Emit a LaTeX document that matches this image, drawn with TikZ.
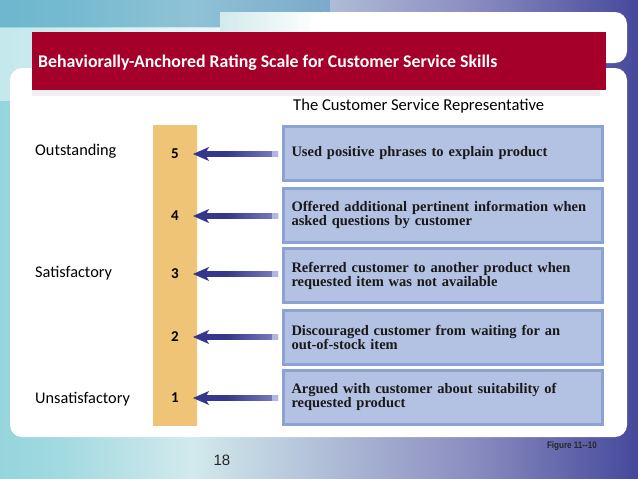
\documentclass[tikz,border=0pt]{standalone}
\usepackage{fontspec}
\setmainfont{Carlito}
\newfontfamily\boxfont{Liberation Serif}
\newfontfamily\arialfont{Liberation Sans}
\usetikzlibrary{calc}
\definecolor{bgteal}{HTML}{56BCC8}
\definecolor{bgtop}{HTML}{3E93BC}
\definecolor{bglight}{HTML}{D2EAEC}
\definecolor{bgnavy}{HTML}{2B2F8C}
\definecolor{titlered}{HTML}{A5002A}
\definecolor{barorange}{HTML}{EFC476}
\definecolor{baredge}{HTML}{E3A84E}
\definecolor{boxfill}{HTML}{B3C1E3}
\definecolor{boxedge}{HTML}{8CA2D5}
\definecolor{arrdark}{HTML}{35378C}
\definecolor{arrlight}{HTML}{B0B6E0}
\pgfdeclarehorizontalshading{bgshade}{100bp}{color(0bp)=(bgteal); color(30bp)=(bgteal!55!white); color(40bp)=(bglight); color(62bp)=(bgnavy!55!white); color(80bp)=(bgnavy); color(100bp)=(bgnavy)}
\pgfdeclarehorizontalshading{barshade}{100bp}{color(0bp)=(baredge); color(25bp)=(barorange); color(75bp)=(barorange); color(100bp)=(baredge)}
\pgfdeclarehorizontalshading{arrshade}{100bp}{color(0bp)=(arrdark); color(40bp)=(arrdark); color(100bp)=(arrlight)}
\newcommand{\wideskip}{\spaceskip=1.45\fontdimen2\font plus 1pt\relax}
\begin{document}
\begin{tikzpicture}[x=1pt,y=-1pt,
  lbl/.style={anchor=base west, font=\fontsize{16.3}{18}\selectfont, text=black, inner sep=0pt},
  num/.style={font=\fontsize{15}{16}\selectfont\bfseries, text=black, inner sep=0pt},
  beh/.style={draw=boxedge, line width=3pt, fill=boxfill, minimum height=54pt,
    text width=302pt, inner xsep=8.5pt, align=left, anchor=west,
    font=\boxfont\bfseries\fontsize{14.5}{14}\selectfont\wideskip, text=black!90},
  headfill/.style={fill=arrdark},
]
\useasboundingbox (0,0) rectangle (638,479);
% background
\shade[shading=bgshade] (0,0) rectangle (638,479);
\fill[bgtop, opacity=0.45] (0,0) rectangle (330,27);
% glow behind title
\shade[left color=bgteal!35!white, right color=white] (0,28) rectangle (330,100);
% top panel
\shade[left color=bglight, right color=white] (220,12) rectangle (320,63);
\fill[white, rounded corners=12pt] (310,12) rectangle (627,63);
% main panel
\fill[white, rounded corners=12pt] (10,68) rectangle (627,437);
% title bar
\fill[black, opacity=0.06] (32,90) rectangle (600,96);
\node[fill=titlered, minimum width=574pt, minimum height=58pt, anchor=north west, inner sep=0pt] (bar) at (32,32) {};
\node[anchor=base west, text=white, inner sep=0pt, font=\fontsize{17.8}{20}\selectfont\bfseries] (title) at (38,67.5) {Behaviorally-Anchored Rating Scale for Customer Service Skills};
\node[anchor=base west, inner sep=0pt, font=\fontsize{16.6}{18}\selectfont] (sub) at (293,110) {The Customer Service Representative};
% orange scale bar
\shade[shading=barshade] (153,125) rectangle (197,425);
\node[inner sep=0pt, minimum width=44pt, minimum height=300pt, anchor=north west] (scale) at (153,125) {};
% left labels
\node[lbl] (l5) at (35,155) {Outstanding};
\node[lbl] (l3) at (35,277.5) {Satisfactory};
\node[lbl] (l1) at (35,403) {Unsatisfactory};
% boxes
\node[beh] (b5) at (281.5,153.5) {Used positive phrases to explain product};
\node[beh] (b4) at (281.5,215) {Offered additional pertinent information when\\asked questions by customer};
\node[beh] (b3) at (281.5,275.5) {Referred customer to another product when\\requested item was not available};
\node[beh] (b2) at (281.5,337) {Discouraged customer from waiting for an\\out-of-stock item};
\node[beh] (b1) at (281.5,397) {Argued with customer about suitability of\\requested product};
% numbers
\node[num] (n5) at (175,154) {5};
\node[num] (n4) at (175,216) {4};
\node[num] (n3) at (175,274) {3};
\node[num] (n2) at (175,337) {2};
\node[num] (n1) at (175,398) {1};
% arrows
\foreach \i in {1,...,5}{
  \coordinate (t\i) at ($(n\i.center)+(18,0)$);
  \coordinate (e\i) at (b\i.west |- n\i.center);
  \shade[shading=arrshade] ($(t\i)+(11,-2.6)$) rectangle ($(e\i)+(-3.5,2.6)$);
  \fill[arrlight] ($(e\i)+(-9.5,-3.4)$) rectangle ($(e\i)+(-3.5,3.4)$);
  \fill[headfill] (t\i) -- ++(16,-7) -- ++(-4,7) -- ++(4,7) -- cycle;
}
% footer
\node[anchor=east, inner sep=0pt, font=\arialfont\bfseries\fontsize{9.5}{10}\selectfont, xscale=0.85, text=black!85] (fig) at (597,446) {Figure 11--10};
\node[inner sep=0pt, font=\arialfont\fontsize{15}{16}\selectfont, text=black!85] (page) at (222,460) {18};
\end{tikzpicture}
\end{document}
